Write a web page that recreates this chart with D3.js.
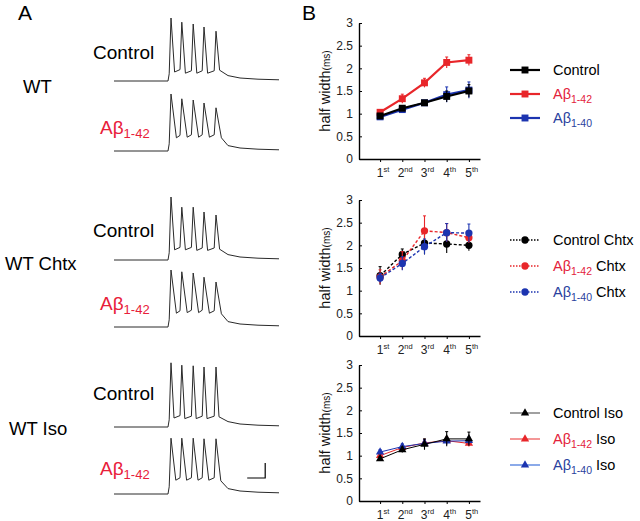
<!DOCTYPE html>
<html>
<head>
<meta charset="utf-8">
<script src="https://cdn.jsdelivr.net/npm/d3@7"></script>
<style>
  body { margin: 0; background: #fff; }
  text { font-family: Arial, "Liberation Sans", sans-serif; }
</style>
</head>
<body>
<svg id="fig" width="640" height="521"></svg>
<script>
// ---- data: half width (ms) per spike number ----
var spikeNo = [1, 2, 3, 4, 5];
var spikeLabels = ["1", "2", "3", "4", "5"];
var spikeSup = ["st", "nd", "rd", "th", "th"];
var yTicks = [0, 0.5, 1, 1.5, 2, 2.5, 3];

// WT
var wtControl = [0.95, 1.12, 1.24, 1.38, 1.50];
var wtControlErr = [0.05, 0.05, 0.05, 0.12, 0.14];
var wtAb42 = [1.03, 1.33, 1.68, 2.13, 2.18];
var wtAb42Err = [0.05, 0.10, 0.10, 0.12, 0.12];
var wtAb40 = [0.93, 1.09, 1.24, 1.42, 1.52];
var wtAb40Err = [0.04, 0.05, 0.05, 0.17, 0.18];

// WT + Chtx
var chtxControl = [1.33, 1.80, 2.05, 2.03, 2.00];
var chtxControlErr = [0.20, 0.12, 0.25, 0.20, 0.12];
var chtxAb42 = [1.30, 1.66, 2.32, 2.28, 2.17];
var chtxAb42Err = [0.16, 0.20, 0.33, 0.20, 0.12];
var chtxAb40 = [1.28, 1.60, 1.97, 2.28, 2.27];
var chtxAb40Err = [0.10, 0.15, 0.17, 0.20, 0.20];

// WT + Iso
var isoControl = [0.93, 1.13, 1.25, 1.37, 1.37];
var isoControlErr = [0.05, 0.06, 0.12, 0.16, 0.15];
var isoAb42 = [1.00, 1.18, 1.28, 1.33, 1.27];
var isoAb42Err = [0.04, 0.05, 0.08, 0.08, 0.07];
var isoAb40 = [1.08, 1.20, 1.27, 1.32, 1.33];
var isoAb40Err = [0.05, 0.06, 0.08, 0.08, 0.08];

// ---- data: example traces (ms, mV) ----
var spikeTimes = [95, 113, 132, 150, 170];
var tailTimes = [190, 210, 240, 275];
var tailMv = [-61, -65, -67, -68];
var peaksWtControl = [35, 28, 25, 20, 13];
var troughsWtControl = [-55, -57, -57, -57, -52];
var peaksWtAb42 = [25, 17, 15, 10, 2];
var troughsWtAb42 = [-48, -47, -47, -47, -48];
var peaksChtxControl = [35, 18, 18, 10, 5];
var troughsChtxControl = [-53, -53, -54, -54, -52];
var peaksChtxAb42 = [25, 22, 20, 13, 5];
var troughsChtxAb42 = [-47, -46, -46, -47, -48];
var peaksIsoControl = [37, 33, 32, 30, 30];
var troughsIsoControl = [-55, -56, -56, -56, -53];
var peaksIsoAb42 = [23, 23, 23, 22, 22];
var troughsIsoAb42 = [-47, -47, -47, -47, -48];
var scaleBarMs = 30, scaleBarMv = 25;

var RED = "#e8262a", BLUE = "#1c34b0", BLACK = "#000";
var svg = d3.select("#fig");

// panel letters
svg.append("text").attr("x", 18).attr("y", 20).attr("font-size", 21).text("A");
svg.append("text").attr("x", 302).attr("y", 20).attr("font-size", 21).text("B");

//
// ---------- A: traces ----------
var tx = d3.scaleLinear().domain([0, 275]).range([114, 279]);

var traces = [
  {base: 81, peaks: peaksWtControl, troughs: troughsWtControl, w: 6},
  {base: 151, peaks: peaksWtAb42, troughs: troughsWtAb42, w: 9},
  {base: 260, peaks: peaksChtxControl, troughs: troughsChtxControl, w: 6},
  {base: 327, peaks: peaksChtxAb42, troughs: troughsChtxAb42, w: 9},
  {base: 427, peaks: peaksIsoControl, troughs: troughsIsoControl, w: 5},
  {base: 494, peaks: peaksIsoAb42, troughs: troughsIsoAb42, w: 8}
];

traces.forEach(function(tr) {
  var ty = d3.scaleLinear().domain([-70, 50]).range([tr.base, tr.base - 72]);
  var pts = [[0, -70], [90, -70], [92, -58]];
  spikeTimes.forEach(function(t, i) {
    if (i > 0) pts.push([t - 3, tr.troughs[i - 1] + 4]);
    pts.push([t, tr.peaks[i]]);
    pts.push([t + tr.w, tr.troughs[i]]);
  });
  tailTimes.forEach(function(t, i) { pts.push([t, tailMv[i]]); });
  svg.append("path")
    .datum(pts)
    .attr("fill", "none")
    .attr("stroke", "#2a2a2a")
    .attr("stroke-width", 1)
    .attr("stroke-linejoin", "round")
    .attr("d", d3.line().x(function(d) { return tx(d[0]); }).y(function(d) { return ty(d[1]); }));
  tr.ty = ty;
});

// scale bar
(function() {
  var sy = d3.scaleLinear().domain([0, 50]).range([478, 448]);
  var t0 = 222;
  svg.append("path")
    .attr("fill", "none").attr("stroke", "#000").attr("stroke-width", 1.2)
    .attr("d", "M" + tx(t0) + "," + sy(0) + "H" + tx(t0 + scaleBarMs) + "V" + sy(scaleBarMv));
})();

// row labels
var rowLabels = [{t: "WT", x: 23, y: 93}, {t: "WT Chtx", x: 5, y: 270}, {t: "WT Iso", x: 9, y: 435}];
rowLabels.forEach(function(r) {
  svg.append("text").attr("x", r.x).attr("y", r.y).attr("font-size", 18.5).text(r.t);
});
[59, 237, 400].forEach(function(y) {
  svg.append("text").attr("x", 93).attr("y", y).attr("font-size", 19).text("Control");
});
[134, 310, 475].forEach(function(y) {
  var t = svg.append("text").attr("x", 100).attr("y", y).attr("font-size", 19).attr("fill", "#e8203a");
  t.append("tspan").text("A\u03b2");
  t.append("tspan").attr("font-size", 13).attr("dy", 4).text("1-42");
});

//
// ---------- B: half-width plots ----------
var x = d3.scaleLinear().domain([0.05, 5.5]).range([359, 480]);

var panels = [
  {bottom: 159, symbol: d3.symbolSquare, size: 48, dash: null, lw: 2.2, suffix: "",
   legendY: [70, 94, 118],
   series: [
     {v: wtAb40, e: wtAb40Err, c: BLUE, lc: BLUE},
     {v: wtAb42, e: wtAb42Err, c: RED, lc: RED},
     {v: wtControl, e: wtControlErr, c: BLACK, lc: BLACK}
   ]},
  {bottom: 336, symbol: d3.symbolCircle, size: 42, dash: "3,2", lw: 1.4, suffix: " Chtx",
   legendY: [240, 266, 292],
   legendDash: "1.5,1.5",
   series: [
     {v: chtxControl, e: chtxControlErr, c: BLACK, lc: BLACK},
     {v: chtxAb42, e: chtxAb42Err, c: RED, lc: RED},
     {v: chtxAb40, e: chtxAb40Err, c: BLUE, lc: BLUE}
   ]},
  {bottom: 501, symbol: d3.symbolTriangle, size: 30, dash: null, lw: 1, suffix: " Iso",
   legendY: [413, 439, 465],
   series: [
     {v: isoAb42, e: isoAb42Err, c: RED, lc: "#f06a6a"},
     {v: isoAb40, e: isoAb40Err, c: BLUE, lc: "#5a86e0"},
     {v: isoControl, e: isoControlErr, c: BLACK, lc: "#777"}
   ]}
];

panels.forEach(function(p) {
  var y = d3.scaleLinear().domain([0, 3]).range([p.bottom, p.bottom - 136]);

  var gy = svg.append("g").attr("transform", "translate(359,0)")
    .call(d3.axisLeft(y).tickValues(yTicks).tickFormat(function(d) { return d; })
      .tickSizeInner(-3).tickSizeOuter(0).tickPadding(6));
  var gx = svg.append("g").attr("transform", "translate(0," + p.bottom + ")")
    .call(d3.axisBottom(x).tickValues(spikeNo).tickSize(3).tickSizeOuter(0).tickPadding(6));
  [gy, gx].forEach(function(g) {
    g.select(".domain").attr("stroke", "#000").attr("stroke-width", 1.4);
    g.selectAll(".tick line").attr("stroke", "#000");
    g.selectAll("text").attr("font-family", "Arial, 'Liberation Sans', sans-serif")
      .attr("font-size", 12).attr("fill", "#222");
  });
  gx.selectAll(".tick text").each(function(d, i) {
    var t = d3.select(this).text(null).attr("dx", "0.2em");
    t.append("tspan").text(spikeLabels[i]);
    t.append("tspan").attr("font-size", 7.5).attr("dy", "-0.55em").text(spikeSup[i]);
  });

  // y label
  var lab = svg.append("text")
    .attr("transform", "translate(330," + (p.bottom - 68) + ") rotate(-90)")
    .attr("text-anchor", "middle").attr("font-size", 14.5).attr("fill", "#111");
  lab.append("tspan").text("half width");
  lab.append("tspan").attr("font-size", 10).text("(ms)");

  var line = d3.line()
    .x(function(d, i) { return x(spikeNo[i]); })
    .y(function(d) { return y(d); });

  p.series.forEach(function(s) {
    var g = svg.append("g");
    // error bars
    g.selectAll("line.err").data(s.v).enter().append("line")
      .attr("x1", function(d, i) { return x(spikeNo[i]); })
      .attr("x2", function(d, i) { return x(spikeNo[i]); })
      .attr("y1", function(d, i) { return y(d - s.e[i]); })
      .attr("y2", function(d, i) { return y(d + s.e[i]); })
      .attr("stroke", s.c).attr("stroke-width", 1.1);
    g.selectAll("line.cap").data(s.v).enter().append("line")
      .attr("x1", function(d, i) { return x(spikeNo[i]) - 1.5; })
      .attr("x2", function(d, i) { return x(spikeNo[i]) + 1.5; })
      .attr("y1", function(d, i) { return y(d + s.e[i]); })
      .attr("y2", function(d, i) { return y(d + s.e[i]); })
      .attr("stroke", s.c).attr("stroke-width", 1);
    g.append("path").datum(s.v)
      .attr("fill", "none").attr("stroke", s.c)
      .attr("stroke-width", p.lw)
      .attr("stroke-dasharray", p.dash)
      .attr("d", line);
    g.selectAll("path.mk").data(s.v).enter().append("path")
      .attr("d", d3.symbol().type(p.symbol).size(p.size))
      .attr("transform", function(d, i) { return "translate(" + x(spikeNo[i]) + "," + y(d) + ")"; })
      .attr("fill", s.c);
  });

  // legend
  var legendItems = [
    {name: "Control", sub: null, c: BLACK, tc: "#000"},
    {name: "A\u03b2", sub: "1-42", c: RED, tc: "#e3223a"},
    {name: "A\u03b2", sub: "1-40", c: BLUE, tc: "#2a3f9e"}
  ];
  var lineColors = p.suffix === " Iso" ? ["#777", "#f06a6a", "#5a86e0"] : [BLACK, RED, BLUE];
  legendItems.forEach(function(it, i) {
    var ly = p.legendY[i];
    svg.append("line").attr("x1", 510).attr("x2", 540).attr("y1", ly).attr("y2", ly)
      .attr("stroke", lineColors[i]).attr("stroke-width", p.suffix === "" ? 2.2 : 1.4)
      .attr("stroke-dasharray", p.legendDash || null);
    svg.append("path").attr("d", d3.symbol().type(p.symbol).size(p.size))
      .attr("transform", "translate(525," + ly + ")").attr("fill", it.c);
    var t = svg.append("text").attr("x", 553).attr("y", ly + 5).attr("font-size", 14.5).attr("fill", it.tc);
    t.append("tspan").text(it.name);
    if (it.sub) {
      t.append("tspan").attr("font-size", 10.5).attr("dy", 4).text(it.sub);
      if (p.suffix) t.append("tspan").attr("dy", -4).attr("fill", "#000").text(p.suffix);
    } else if (p.suffix) {
      t.append("tspan").text(p.suffix);
    }
  });
});
</script>
</body>
</html>
